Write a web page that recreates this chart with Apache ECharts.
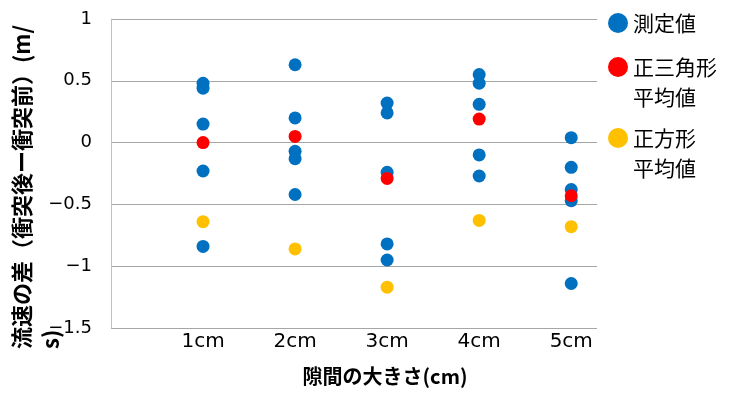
<!DOCTYPE html>
<html>
<head>
<meta charset="utf-8">
<script src="https://cdn.jsdelivr.net/npm/echarts@6/dist/echarts.min.js"></script>
<style>html,body{margin:0;padding:0;background:#fff}#c{width:729px;height:396px}</style>
</head>
<body>
<div id="c"></div>
<script>
var categories = ['1cm', '2cm', '3cm', '4cm', '5cm'];
var measured1 = [0.48, 0.44, 0.15, -0.23, -0.84];
var measured2 = [0.63, 0.20, -0.07, -0.13, -0.42];
var measured3 = [0.32, 0.24, -0.24, -0.82, -0.95];
var measured4 = [0.55, 0.48, 0.31, -0.10, -0.27];
var measured5 = [0.04, -0.20, -0.38, -0.47, -1.14];
var triangleAvg = [0.00, 0.05, -0.29, 0.19, -0.43];
var squareAvg = [-0.64, -0.86, -1.17, -0.63, -0.68];
var seriesNames = ['測定値', '正三角形\n平均値', '正方形\n平均値'];
var xTitle = '隙間の大きさ(cm)';
var yTitle = '流速の差（衝突後ー衝突前）(m/\ns)';

var measuredGroups = [measured1, measured2, measured3, measured4, measured5];
var measuredData = [];
measuredGroups.forEach(function (g, i) {
  g.forEach(function (v) { measuredData.push([i + 1, v]); });
});
var triData = triangleAvg.map(function (v, i) { return [i + 1, v]; });
var sqData = squareAvg.map(function (v, i) { return [i + 1, v]; });

var cjk = '"Noto Sans CJK JP", sans-serif';
var chart = echarts.init(document.getElementById('c'));
function legendFor(name, top, twoLines) {
  return {
    data: [{ name: name, icon: 'circle' }],
    left: 608,
    top: top,
    padding: 0,
    itemWidth: 20,
    itemHeight: 20,
    itemGap: 0,
    selectedMode: false,
    formatter: function (n) { return twoLines ? '\n' + n : n; },
    textStyle: { fontFamily: cjk, fontSize: 21, color: '#000', lineHeight: 30 }
  };
}
chart.setOption({
  animation: false,
  grid: { left: 111, right: 132, top: 19, bottom: 68 },
  legend: [
    legendFor(seriesNames[0], 8, false),
    legendFor(seriesNames[1], 22, true),
    legendFor(seriesNames[2], 93, true)
  ],
  xAxis: {
    type: 'value', min: 0, max: 5.28, interval: 1,
    axisLine: { show: false }, axisTick: { show: false }, splitLine: { show: false },
    axisLabel: {
      fontFamily: 'DejaVu Sans', fontSize: 20, color: '#000', margin: 4,
      formatter: function (v) {
        var k = Math.round(v);
        return (Math.abs(v - k) < 1e-6 && k >= 1 && k <= categories.length) ? categories[k - 1] : '';
      }
    },
    name: xTitle, nameLocation: 'middle', nameGap: 38,
    nameTextStyle: { fontFamily: cjk, fontSize: 20, fontWeight: 'bold', color: '#000', padding: [0, 0, 0, 62] }
  },
  yAxis: {
    type: 'value', min: -1.5, max: 1, interval: 0.5,
    axisLine: { show: true, lineStyle: { color: '#C0C0C0', width: 1 } },
    axisTick: { show: false },
    splitLine: { show: true, lineStyle: { color: '#A6A6A6', width: 1 } },
    axisLabel: {
      fontFamily: 'DejaVu Sans', fontSize: 18, color: '#000', margin: 19,
      formatter: function (v) { return String(v).replace('-', '\u2212'); }
    }
  },
  graphic: [{
    type: 'text',
    x: 7, y: 349,
    rotation: Math.PI / 2,
    style: {
      text: yTitle, fontFamily: cjk, fontSize: 22, fontWeight: 'bold',
      fill: '#000', lineHeight: 29, align: 'left', verticalAlign: 'top'
    }
  }],
  series: [
    { name: seriesNames[0], type: 'scatter', data: measuredData, symbolSize: 13,
      itemStyle: { color: '#0070C0', opacity: 1 }, z: 2 },
    { name: seriesNames[1], type: 'scatter', data: triData, symbolSize: 13,
      itemStyle: { color: '#FF0000', opacity: 1 }, z: 3 },
    { name: seriesNames[2], type: 'scatter', data: sqData, symbolSize: 13,
      itemStyle: { color: '#FFC000', opacity: 1 }, z: 3 }
  ]
});
</script>
</body>
</html>
